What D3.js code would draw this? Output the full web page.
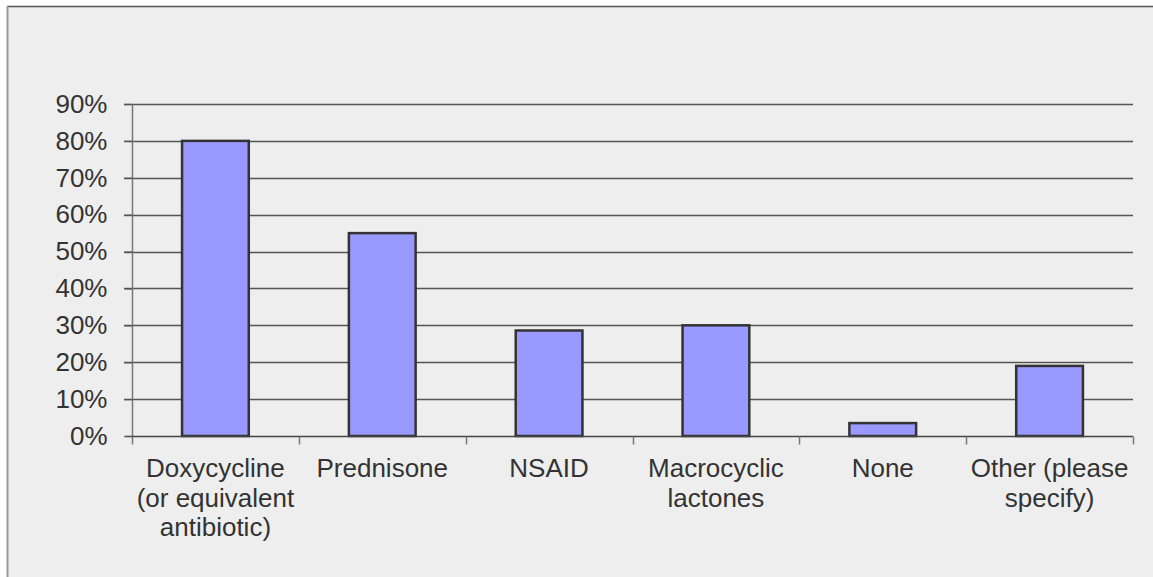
<!DOCTYPE html>
<html><head><meta charset="utf-8">
<script src="https://cdn.jsdelivr.net/npm/d3@7"></script>
<style>html,body{margin:0;padding:0;background:#fff;}svg{display:block;}</style>
</head><body>
<svg id="c" width="1153" height="577"></svg>
<script>
const categories = [
  ["Doxycycline", "(or equivalent", "antibiotic)"],
  ["Prednisone"],
  ["NSAID"],
  ["Macrocyclic", "lactones"],
  ["None"],
  ["Other (please", "specify)"]
];
const values = [0.80, 0.55, 0.286, 0.30, 0.035, 0.19];
const yTicks = [0, 0.1, 0.2, 0.3, 0.4, 0.5, 0.6, 0.7, 0.8, 0.9];

const svg = d3.select("#c");
const W = 1153, H = 577;
const font = "'Liberation Sans', Arial, sans-serif";
const fs = "26px";

// frame
svg.append("rect").attr("x", 7).attr("y", 6).attr("width", W).attr("height", H).attr("fill", "#eeeeee");
svg.append("line").attr("x1", 7).attr("x2", W).attr("y1", 6.5).attr("y2", 6.5).attr("stroke", "#555").attr("stroke-width", 1.5);
svg.append("line").attr("x1", 7.5).attr("x2", 7.5).attr("y1", 6).attr("y2", H).attr("stroke", "#999").attr("stroke-width", 2);

const x0 = 132, x1 = 1133, yTop = 104, yBot = 436;
const x = d3.scaleBand().domain(d3.range(categories.length)).range([x0, x1]).paddingInner(0).paddingOuter(0);
const y = d3.scaleLinear().domain([0, 0.9]).range([yBot, yTop]);

// gridlines
svg.append("g").selectAll("line").data(yTicks.filter(d => d > 0)).join("line")
  .attr("x1", x0 - 8).attr("x2", x1)
  .attr("y1", d => Math.round(y(d)) + 0.5).attr("y2", d => Math.round(y(d)) + 0.5)
  .attr("stroke", "#555").attr("stroke-width", 1.3);

// y axis
const yAxis = d3.axisLeft(y).tickValues(yTicks).tickFormat(d3.format(".0%")).tickSize(8).tickPadding(17);
const gy = svg.append("g").attr("transform", `translate(${x0 + 0.5},0)`).call(yAxis);
gy.select(".domain").attr("stroke", "#777").attr("stroke-width", 1.5).attr("d", `M-8,${yBot + 0.5}H0V${yTop}`);
gy.selectAll(".tick line").attr("stroke", "#555").attr("stroke-width", 1.3);
gy.selectAll(".tick text").attr("fill", "#333").style("font-family", font).style("font-size", fs);

// bars
svg.append("g").selectAll("rect").data(values).join("rect")
  .attr("x", (d, i) => x(i) + x.bandwidth() * 0.3)
  .attr("width", x.bandwidth() * 0.4)
  .attr("y", d => y(d))
  .attr("height", d => y(0) - y(d))
  .attr("fill", "#9999ff").attr("stroke", "#333").attr("stroke-width", 2.5);

// x axis
const xAxis = d3.axisBottom(x).tickSize(0).tickFormat("");
const gx = svg.append("g").attr("transform", `translate(0,${yBot + 0.5})`).call(xAxis);
gx.select(".domain").attr("stroke", "#444").attr("stroke-width", 1.5).attr("d", `M${x0},0H${x1}`);
const bounds = d3.range(categories.length + 1).map(i => x0 + i * x.step());
gx.selectAll(".btick").data(bounds).join("line").attr("class", "btick")
  .attr("x1", d => Math.round(d) + 0.5).attr("x2", d => Math.round(d) + 0.5)
  .attr("y1", 0).attr("y2", 8).attr("stroke", "#777").attr("stroke-width", 1.5);

// category labels
const lab = svg.append("g");
categories.forEach((lines, i) => {
  const t = lab.append("text").attr("text-anchor", "middle")
    .attr("fill", "#333").style("font-family", font).style("font-size", fs);
  lines.forEach((ln, j) => {
    t.append("tspan").attr("x", x(i) + x.bandwidth() / 2).attr("y", 477 + j * 29.5).text(ln);
  });
});
</script>
</body></html>
